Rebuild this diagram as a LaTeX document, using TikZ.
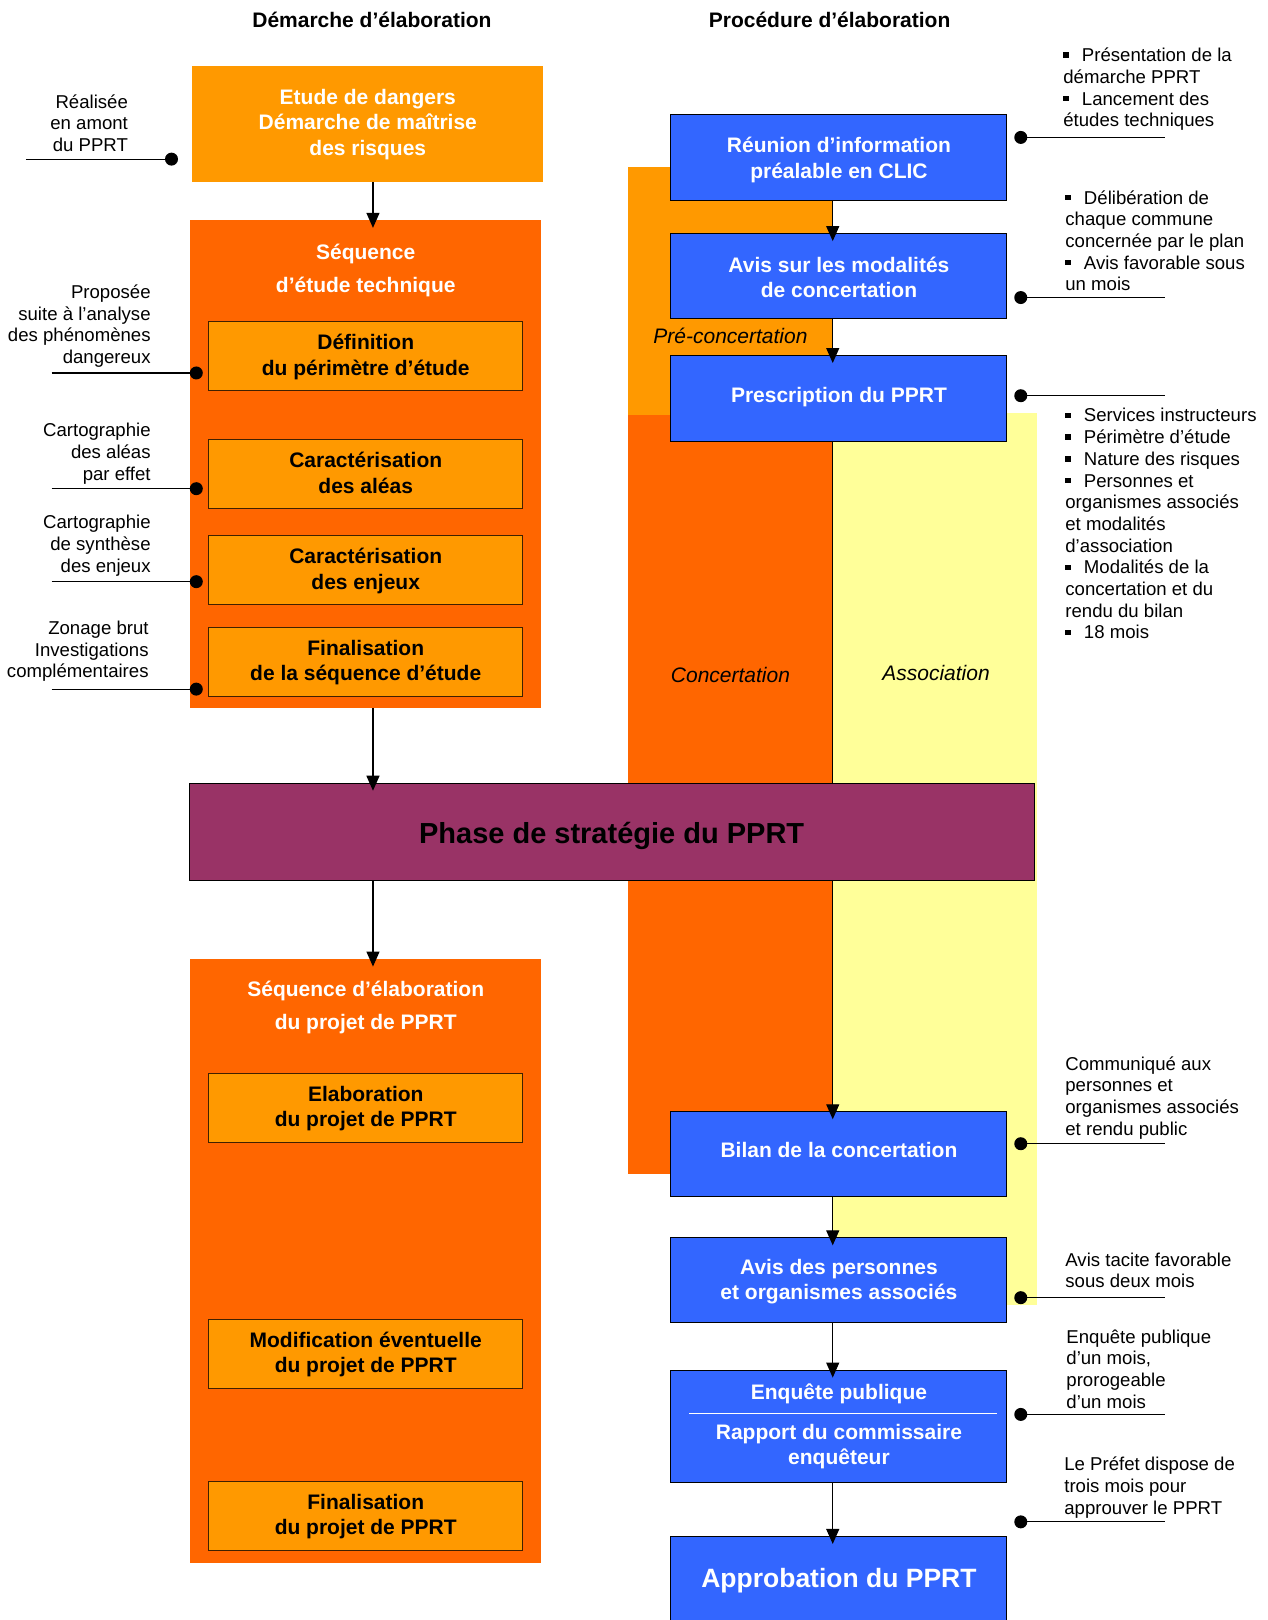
\documentclass[tikz,border=0pt]{standalone}
\usepackage{fontspec}
\setmainfont{Liberation Sans}
\usetikzlibrary{arrows.meta,fit}
\definecolor{orL}{HTML}{FF9900}
\definecolor{orD}{HTML}{FF6600}
\definecolor{purp}{HTML}{993366}
\definecolor{blu}{HTML}{3366FF}
\definecolor{yel}{HTML}{FFFF99}
\newcommand\sqb{\rule[0.2em]{0.3em}{0.3em}\hspace{0.7em}}
\begin{document}
\begin{tikzpicture}[x=1.0334pt,y=-1.0334pt,
  ann/.style={font=\fontsize{18.6}{21.7}\selectfont, inner sep=0pt},
  annL/.style={ann, align=right, anchor=east},
  annR/.style={ann, align=left, anchor=west},
  bt/.style={font=\fontsize{21}{25.5}\selectfont\bfseries},
  hdr/.style={bt, inner sep=0pt},
  wt/.style={hdr, text=white, align=center},
  kt/.style={hdr, text=black, align=center},
  obox/.style={inner sep=0pt, fill=orL},
  sbox/.style={inner sep=0pt, fill=orD},
  stitle/.style={inner sep=0pt, text=white, align=center, font=\fontsize{21}{33}\selectfont\bfseries},
  ibox/.style={inner sep=0pt, fill=orL, draw=black!75!orange, line width=0.8pt},
  bbox/.style={inner sep=0pt, fill=blu, draw=black, line width=0.8pt},
  arr/.style={-{Triangle[length=15pt,width=13pt]}, line width=1.2pt, shorten >=-8pt},
  lnk/.style={line width=1.2pt},
  dot/.style={circle, fill=black, inner sep=0pt, minimum size=13pt},
  lab/.style={font=\fontsize{21}{25}\selectfont\itshape, inner sep=0pt},
]
\useasboundingbox (0,0) rectangle (1227,1568);
% background bands
\fill[orL] (608,162) rectangle (806,402);
\fill[orD] (608,402) rectangle (806,1136);
\fill[yel] (806,400) rectangle (1004,1263);

% titles
\node[hdr] (t1) at (360,19) {Démarche d’élaboration};
\node[hdr] (t2) at (803,19) {Procédure d’élaboration};

% left column
\node[obox, fit={(186,64) (526,176)}] (etude) {};
\node[wt] (etudeT) at (356,120.5) {Etude de dangers\\Démarche de maîtrise\\des risques};
\node[sbox, fit={(184,213) (524,685)}] (seq1) {};
\node[stitle] (seq1t) at (354,261.5) {Séquence\\d’étude technique};
\node[ibox, fit={(202,311) (506,378)}] (def) {};
\node[kt] (defT) at (354,345.5) {Définition\\du périmètre d’étude};
\node[ibox, fit={(202,425) (506,492)}] (alea) {};
\node[kt] (aleaT) at (354,457.5) {Caractérisation\\des aléas};
\node[ibox, fit={(202,518) (506,585)}] (enj) {};
\node[kt] (enjT) at (354,552.5) {Caractérisation\\des enjeux};
\node[ibox, fit={(202,607) (506,674)}] (finseq) {};
\node[kt] (finseqT) at (354,641.5) {Finalisation\\de la séquence d’étude};

\node[fit={(183,758) (1001,852)}, inner sep=0pt, fill=purp, draw=black, line width=0.8pt] (phase) {};
\node[inner sep=0pt, font=\fontsize{29}{34}\selectfont\bfseries] (phaseT) at (592,809) {Phase de stratégie du PPRT};

\node[sbox, fit={(184,928) (524,1513)}] (seq2) {};
\node[stitle] (seq2t) at (354,975.5) {Séquence d’élaboration\\du projet de PPRT};
\node[ibox, fit={(202,1039) (506,1106)}] (elab) {};
\node[kt] (elabT) at (354,1073) {Elaboration\\du projet de PPRT};
\node[ibox, fit={(202,1277) (506,1344)}] (modif) {};
\node[kt] (modifT) at (354,1311) {Modification éventuelle\\du projet de PPRT};
\node[ibox, fit={(202,1434) (506,1501)}] (finproj) {};
\node[kt] (finprojT) at (354,1468) {Finalisation\\du projet de PPRT};

% right column
\node[bbox, fit={(649,111) (974,194)}] (reu) {};
\node[wt] (reuT) at (812,155) {Réunion d’information\\préalable en CLIC};
\node[bbox, fit={(649,226) (974,308)}] (avis1) {};
\node[wt] (avis1T) at (812,268.5) {Avis sur les modalités\\de concertation};
\node[bbox, fit={(649,344) (974,427)}] (presc) {};
\node[wt] (prescT) at (812,384) {Prescription du PPRT};
\node[bbox, fit={(649,1076) (974,1158)}] (bilan) {};
\node[wt] (bilanT) at (812,1113.5) {Bilan de la concertation};
\node[bbox, fit={(649,1198) (974,1280)}] (avis2) {};
\node[wt] (avis2T) at (812,1240.5) {Avis des personnes\\et organismes associés};
\node[bbox, fit={(649,1326) (974,1435)}] (enq) {};
\node[wt] (enq1) at (812,1349) {Enquête publique};
\draw[white, line width=1.5pt] (667,1368) -- (965,1368);
\node[wt] (enq2) at (812,1400) {Rapport du commissaire\\enquêteur};
\node[bbox, fit={(649,1487) (974,1580)}] (appro) {};
\node[inner sep=0pt, text=white, font=\fontsize{26.5}{30}\selectfont\bfseries] (approT) at (812,1530) {Approbation du PPRT};

% italic labels
\node[lab] (pre) at (707,325) {Pré-concertation};
\node[lab] (conc) at (707,653) {Concertation};
\node[lab] (asso) at (906,651) {Association};

% arrows
\coordinate (ax) at (361,0);
\coordinate (bx) at (806,0);
\draw[arr] (etude.south -| ax) -- (seq1.north -| ax);
\draw[arr] (seq1.south -| ax) -- (phase.north -| ax);
\draw[arr] (phase.south -| ax) -- (seq2.north -| ax);
\draw[arr] (reu.south -| bx) -- (avis1.north -| bx);
\draw[arr] (avis1.south -| bx) -- (presc.north -| bx);
\draw[lnk] (presc.south -| bx) -- (phase.north -| bx);
\draw[arr] (phase.south -| bx) -- (bilan.north -| bx);
\draw[arr] (bilan.south -| bx) -- (avis2.north -| bx);
\draw[arr] (avis2.south -| bx) -- (enq.north -| bx);
\draw[arr] (enq.south -| bx) -- (appro.north -| bx);

% left annotations
\node[annL] (a1) at (124,119) {Réalisée\\en amont\\du PPRT};
\node[dot] (a1d) at (166,154) {};
\coordinate (a1e) at (25,154);
\draw[lnk] (a1e) -- (a1d.center);

\node[annL] (a2) at (146,315.5) {Proposée\\suite à l’analyse\\des phénomènes\\dangereux};
\node[dot] (a2d) at (190,361) {};
\coordinate (a2e) at (50,361);
\draw[lnk] (a2e) -- (a2d.center);

\node[annL] (a3) at (146,439) {Cartographie\\des aléas\\par effet};
\node[dot] (a3d) at (190,473) {};
\coordinate (a3e) at (50,473);
\draw[lnk] (a3e) -- (a3d.center);

\node[annL] (a4) at (146,528) {Cartographie\\de synthèse\\des enjeux};
\node[dot] (a4d) at (190,563) {};
\coordinate (a4e) at (50,563);
\draw[lnk] (a4e) -- (a4d.center);

\node[annL] (a5) at (144,630.5) {Zonage brut\\Investigations\\complémentaires};
\node[dot] (a5d) at (190,667) {};
\coordinate (a5e) at (50,667);
\draw[lnk] (a5e) -- (a5d.center);

% right annotations
\node[annR] (r1) at (1029,86.5) {\sqb Présentation de la\\démarche PPRT\\\sqb Lancement des\\études techniques};
\node[dot] (r1d) at (988,133) {};
\coordinate (r1e) at (1128,133);
\draw[lnk] (r1d.center) -- (r1e);

\node[annR] (r2) at (1031,233) {\sqb Délibération de\\chaque commune\\concernée par le plan\\\sqb Avis favorable sous\\un mois};
\node[dot] (r2d) at (988,288) {};
\coordinate (r2e) at (1128,288);
\draw[lnk] (r2d.center) -- (r2e);

\node[dot] (r3d) at (988,383) {};
\coordinate (r3e) at (1128,383);
\draw[lnk] (r3d.center) -- (r3e);
\node[annR] (r3) at (1031,507) {\sqb Services instructeurs\\\sqb Périmètre d’étude\\\sqb Nature des risques\\\sqb Personnes et\\organismes associés\\et modalités\\d’association\\\sqb Modalités de la\\concertation et du\\rendu du bilan\\\sqb 18 mois};

\node[annR] (r4) at (1031,1062.5) {Communiqué aux\\personnes et\\organismes associés\\et rendu public};
\node[dot] (r4d) at (988,1107) {};
\coordinate (r4e) at (1128,1107);
\draw[lnk] (r4d.center) -- (r4e);

\node[annR] (r5) at (1031,1229.5) {Avis tacite favorable\\sous deux mois};
\node[dot] (r5d) at (988,1256) {};
\coordinate (r5e) at (1128,1256);
\draw[lnk] (r5d.center) -- (r5e);

\node[annR] (r6) at (1032,1325) {Enquête publique\\d’un mois,\\prorogeable\\d’un mois};
\node[dot] (r6d) at (988,1369) {};
\coordinate (r6e) at (1128,1369);
\draw[lnk] (r6d.center) -- (r6e);

\node[annR] (r7) at (1030,1440) {Le Préfet dispose de\\trois mois pour\\approuver le PPRT};
\node[dot] (r7d) at (988,1473) {};
\coordinate (r7e) at (1128,1473);
\draw[lnk] (r7d.center) -- (r7e);
\end{tikzpicture}
\end{document}
